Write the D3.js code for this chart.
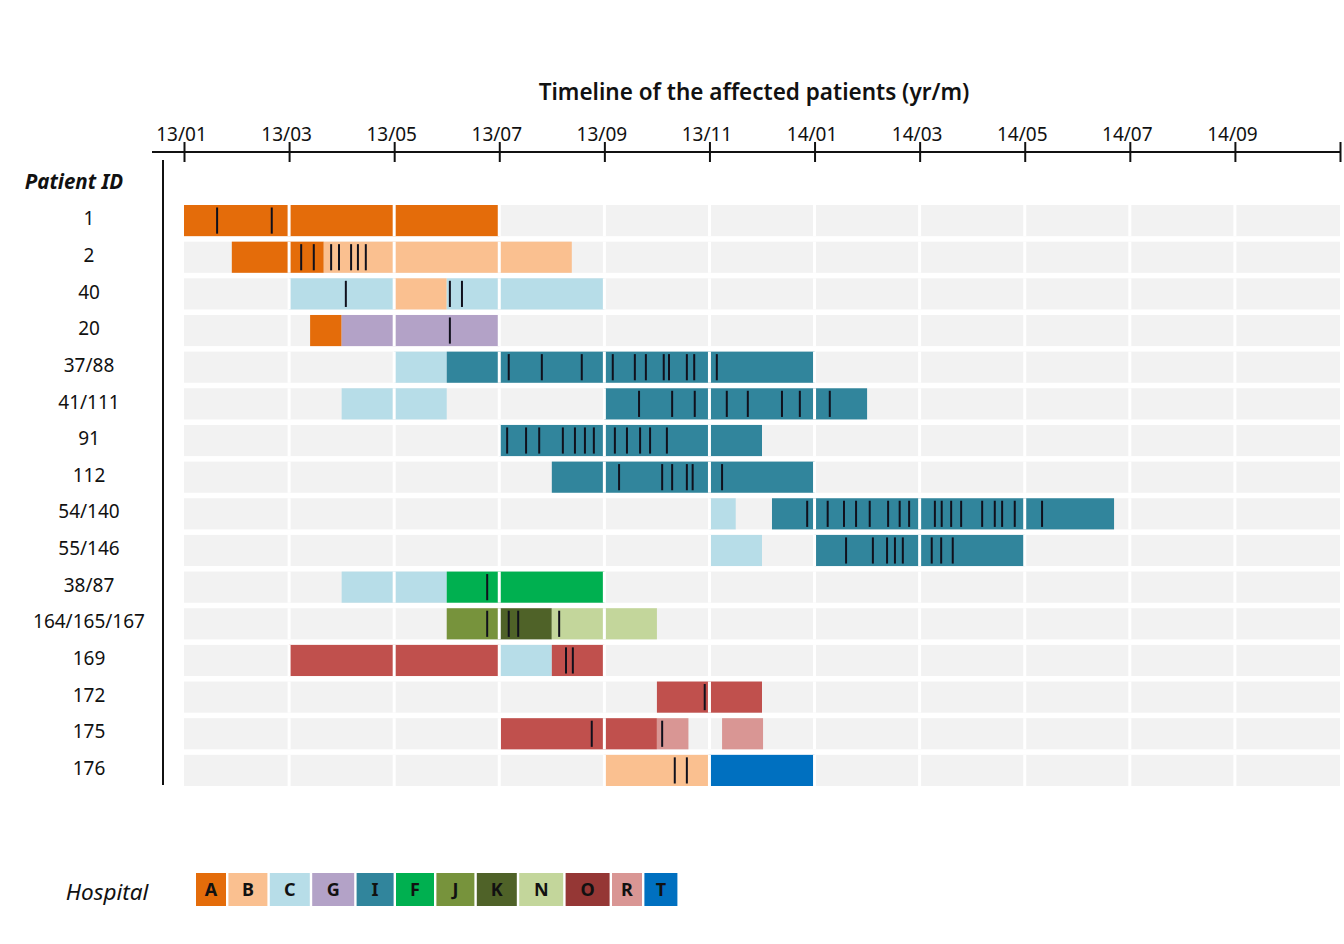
<!DOCTYPE html>
<html>
<head>
<meta charset="utf-8">
<script src="https://cdn.jsdelivr.net/npm/d3@7"></script>
<style>
  html, body { margin: 0; padding: 0; background: #fff; }
  svg { display: block; font-family: "Noto Sans", "DejaVu Sans", sans-serif; }
</style>
</head>
<body>
<svg id="chart" width="1344" height="944"></svg>
<script>
// ---------------- DATA ----------------
// months counted from 2013-01 (0 = 13/01)
const patients = ["1","2","40","20","37/88","41/111","91","112","54/140","55/146","38/87","164/165/167","169","172","175","176"];

const hospitals = ["A","B","C","G","I","F","J","K","N","O","R","T"];
const hospitalColors = ["#E46C0A","#FAC090","#B7DDE8","#B3A2C7","#31859C","#00B050","#77933C","#4F6228","#C3D69B","#C0504D","#D99694","#0070C0"];
const legendColors   = ["#E46C0A","#FAC090","#B7DDE8","#B3A2C7","#31859C","#00B050","#77933C","#4F6228","#C3D69B","#953735","#D99694","#0070C0"];

const tickMonths = [0,2,4,6,8,10,12,14,16,18,20,22];
const tickLabels = ["13/01","13/03","13/05","13/07","13/09","13/11","14/01","14/03","14/05","14/07","14/09",""];

// hospital stays: [patient, hospital, startMonth, endMonth]
const stays = [
  ["1","A",0,6],
  ["2","A",0.91,2.66], ["2","B",2.66,7.38],
  ["40","C",2,4], ["40","B",4,5], ["40","C",5,8],
  ["20","A",2.40,3], ["20","G",3,6],
  ["37/88","C",4,5], ["37/88","I",5,12],
  ["41/111","C",3,5], ["41/111","I",8,13],
  ["91","I",6,11],
  ["112","I",7,12],
  ["54/140","C",10,10.5], ["54/140","I",11.19,17.7],
  ["55/146","C",10,11], ["55/146","I",12,16],
  ["38/87","C",3,5], ["38/87","F",5,8],
  ["164/165/167","J",5,6], ["164/165/167","K",6,7], ["164/165/167","N",7,9],
  ["169","O",2,6], ["169","C",6,7], ["169","O",7,8],
  ["172","O",9,11],
  ["175","O",6.03,9], ["175","R",9,9.6], ["175","R",10.24,11.02],
  ["176","B",8,10], ["176","T",10,12]
];

// event marks (isolation dates): [patient, month]
const eventsByPatient = {
  "1": [0.63,1.67],
  "2": [2.23,2.47,2.80,2.95,3.18,3.31,3.46],
  "40": [3.08,5.06,5.29],
  "20": [5.06],
  "37/88": [6.18,6.81,7.57,8.16,8.58,8.79,9.13,9.23,9.57,9.71,10.14],
  "41/111": [8.66,9.29,9.72,10.33,10.73,11.38,11.72,12.29],
  "91": [6.15,6.51,6.76,7.21,7.44,7.63,7.80,8.20,8.43,8.68,8.87,9.19],
  "112": [8.28,9.10,9.29,9.57,9.68,10.24],
  "54/140": [11.86,12.25,12.56,12.79,13.05,13.40,13.62,13.80,14.29,14.42,14.60,14.79,15.19,15.43,15.57,15.81,16.33],
  "55/146": [12.60,13.11,13.38,13.53,13.68,14.23,14.41,14.63],
  "38/87": [5.77],
  "164/165/167": [5.77,6.18,6.36,7.14],
  "169": [7.27,7.40],
  "172": [9.91],
  "175": [7.76,9.10],
  "176": [9.34,9.57]
};

// ---------------- LAYOUT ----------------
const svg = d3.select("#chart");
const x = d3.scaleLinear().domain([0, 22]).range([184, 1340]);
const y = d3.scaleBand().domain(patients).range([205, 786]).paddingInner(0.15).paddingOuter(0);
const color = d3.scaleOrdinal().domain(hospitals).range(hospitalColors);
const legendWidths = [30,39,40,42,37,38,38,40,44,44,30,33];

// title
svg.append("text")
  .attr("x", 754).attr("y", 100)
  .attr("text-anchor", "middle")
  .attr("font-size", 22.5).attr("font-weight", 600).attr("fill", "#111")
  .text("Timeline of the affected patients (yr/m)");

// axis
const axisY = 152;
const axis = d3.axisTop(x)
  .tickValues(tickMonths)
  .tickSize(10)
  .tickFormat((d, i) => tickLabels[i]);
const gAxis = svg.append("g").attr("transform", `translate(0,${axisY})`).call(axis);
gAxis.select(".domain").remove();
gAxis.selectAll(".tick line").attr("y1", 10).attr("stroke", "#111").attr("stroke-width", 2);
gAxis.selectAll(".tick text")
  .attr("font-size", 19).attr("fill", "#111")
  .attr("font-family", "Noto Sans, sans-serif")
  .attr("dy", "0.08em").attr("dx", -3);
gAxis.append("line")
  .attr("x1", 152).attr("x2", x.range()[1])
  .attr("y1", 0).attr("y2", 0)
  .attr("stroke", "#111").attr("stroke-width", 2);

// left vertical line
svg.append("line")
  .attr("x1", 163).attr("x2", 163)
  .attr("y1", 160).attr("y2", 785)
  .attr("stroke", "#111").attr("stroke-width", 2);

// Patient ID header
svg.append("text")
  .attr("x", 74).attr("y", 189)
  .attr("text-anchor", "middle")
  .attr("font-size", 20.5).attr("font-weight", 700).attr("font-style", "italic").attr("fill", "#111")
  .text("Patient ID");

// row labels
svg.append("g").selectAll("text").data(patients).join("text")
  .attr("x", 89)
  .attr("y", d => y(d) + y.bandwidth() / 2 - 2)
  .attr("dy", "0.35em")
  .attr("text-anchor", "middle")
  .attr("font-size", 19).attr("fill", "#111")
  .text(d => d);

// row backgrounds
svg.append("g").selectAll("rect").data(patients).join("rect")
  .attr("x", x(0)).attr("width", x(22) - x(0))
  .attr("y", d => y(d)).attr("height", y.bandwidth())
  .attr("fill", "#F2F2F2");

// stays
svg.append("g").selectAll("rect").data(stays).join("rect")
  .attr("x", d => x(d[2]))
  .attr("width", d => x(d[3]) - x(d[2]))
  .attr("y", d => y(d[0])).attr("height", y.bandwidth())
  .attr("fill", d => color(d[1]));

// white separators at 2-month boundaries
const boundaries = tickMonths.filter(m => m > 0 && m < 22);
const sepG = svg.append("g");
patients.forEach(p => {
  sepG.selectAll(null).data(boundaries).join("rect")
    .attr("x", m => x(m) - 1.5).attr("width", 3)
    .attr("y", y(p)).attr("height", y.bandwidth())
    .attr("fill", "#fff");
});

// event marks
const events = [];
patients.forEach(p => (eventsByPatient[p] || []).forEach(m => events.push([p, m])));
svg.append("g").selectAll("line").data(events).join("line")
  .attr("x1", d => x(d[1])).attr("x2", d => x(d[1]))
  .attr("y1", d => y(d[0]) + 2.5)
  .attr("y2", d => y(d[0]) + y.bandwidth() - 2.5)
  .attr("stroke", "#10101c").attr("stroke-width", 2);

// legend
svg.append("text")
  .attr("x", 107).attr("y", 892).attr("dy", "0.35em")
  .attr("text-anchor", "middle")
  .attr("font-size", 22.5).attr("font-style", "italic").attr("fill", "#111")
  .text("Hospital");

const legendX0 = 196, legendGap = 2.4, legendTop = 873, legendH = 33;
let lx = legendX0;
const legendData = hospitals.map((h, i) => {
  const item = { h, c: legendColors[i], x: lx, w: legendWidths[i] };
  lx += legendWidths[i] + legendGap;
  return item;
});
const lg = svg.append("g").selectAll("g").data(legendData).join("g");
lg.append("rect")
  .attr("x", d => d.x).attr("width", d => d.w)
  .attr("y", legendTop).attr("height", legendH)
  .attr("fill", d => d.c);
lg.append("text")
  .attr("x", d => d.x + d.w / 2).attr("y", legendTop + legendH / 2)
  .attr("dy", "0.36em").attr("text-anchor", "middle")
  .attr("font-size", 18).attr("font-weight", 700).attr("fill", "#111")
  .text(d => d.h);
</script>
</body>
</html>
